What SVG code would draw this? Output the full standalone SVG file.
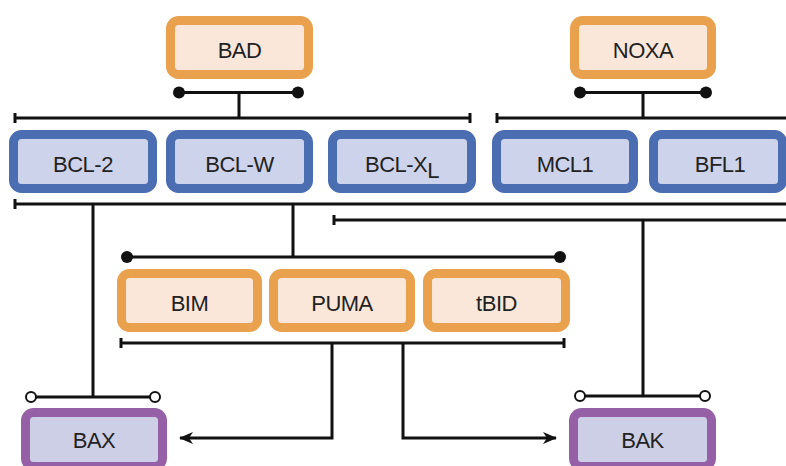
<svg xmlns="http://www.w3.org/2000/svg" width="786" height="466" viewBox="0 0 786 466">
<defs>
<style>
.box rect{stroke-width:9}
.o rect{fill:#FAE7DA;stroke:#E9A14E}
.b rect{fill:#CDD3EA;stroke:#4B6DB1}
.p rect{fill:#CDCFE6;stroke:#9660A6}
text{font-family:"Liberation Sans",Arial,sans-serif;font-size:22px;letter-spacing:-0.5px;fill:#222;text-anchor:middle}
.ln{stroke:#111;stroke-width:3;fill:none}
.dot{fill:#111}
.odot{fill:#fff;stroke:#111;stroke-width:2}
</style>
<marker id="ah" viewBox="0 0 14 12" refX="13" refY="6" markerWidth="14" markerHeight="12" markerUnits="userSpaceOnUse" orient="auto">
<path d="M0,0 L14,6 L0,12 L4,6 Z" fill="#111"/>
</marker>
</defs>
<rect width="786" height="466" fill="#fff"/>
<g id="connectors">
<path class="ln" d="M179 92.5H298M239 92.5V118"/>
<circle class="dot" cx="179" cy="92.5" r="6"/><circle class="dot" cx="298" cy="92.5" r="6"/>
<path class="ln" d="M15 118H470M15 113V123M470 113V123"/>
<path class="ln" d="M580 92.5H706M643 92.5V118"/>
<circle class="dot" cx="580" cy="92.5" r="6"/><circle class="dot" cx="706" cy="92.5" r="6"/>
<path class="ln" d="M497 118H790M497 113V123"/>
<path class="ln" d="M15 204H790M15 199V209"/>
<path class="ln" d="M334 220H790M334 215V225"/>
<path class="ln" d="M93 204V397"/>
<path class="ln" d="M293 204V257"/>
<path class="ln" d="M127 257H560"/>
<circle class="dot" cx="127" cy="257" r="6"/><circle class="dot" cx="560" cy="257" r="6"/>
<path class="ln" d="M643 220V396"/>
<path class="ln" d="M121 343H564M121 338V348M564 338V348"/>
<path class="ln" d="M332 343V438H180" marker-end="url(#ah)"/>
<path class="ln" d="M403 343V438H556" marker-end="url(#ah)"/>
<path class="ln" d="M36 397H150"/>
<circle class="odot" cx="31" cy="397" r="5"/><circle class="odot" cx="155" cy="397" r="5"/>
<path class="ln" d="M585 396H700"/>
<circle class="odot" cx="580" cy="396" r="5"/><circle class="odot" cx="705" cy="396" r="5"/>
</g>
<g id="BAD" class="box o"><rect x="170.5" y="20.5" width="138" height="54" rx="8"/><text x="239.5" y="58">BAD</text></g>
<g id="NOXA" class="box o"><rect x="574.5" y="20.5" width="137" height="54" rx="8"/><text x="643" y="58">NOXA</text></g>
<g id="BCL-2" class="box b"><rect x="13.5" y="134.5" width="139" height="54" rx="8"/><text x="83" y="172">BCL-2</text></g>
<g id="BCL-W" class="box b"><rect x="170.5" y="134.5" width="138" height="54" rx="8"/><text x="239.5" y="172">BCL-W</text></g>
<g id="BCL-XL" class="box b"><rect x="332.5" y="134.5" width="139" height="54" rx="8"/><text x="402" y="172">BCL-X<tspan dy="6">L</tspan></text></g>
<g id="MCL1" class="box b"><rect x="496.5" y="134.5" width="137" height="54" rx="8"/><text x="565" y="172">MCL1</text></g>
<g id="BFL1" class="box b"><rect x="653.5" y="134.5" width="129" height="54" rx="8"/><text x="720" y="172">BFL1</text></g>
<g id="BIM" class="box o"><rect x="121.5" y="273.5" width="136" height="54" rx="8"/><text x="189.5" y="311">BIM</text></g>
<g id="PUMA" class="box o"><rect x="273.5" y="273.5" width="137" height="54" rx="8"/><text x="342" y="311">PUMA</text></g>
<g id="tBID" class="box o"><rect x="427.5" y="273.5" width="138" height="54" rx="8"/><text x="496.5" y="311">tBID</text></g>
<g id="BAX" class="box p"><rect x="25.5" y="412.5" width="137" height="54" rx="8"/><text x="94" y="448">BAX</text></g>
<g id="BAK" class="box p"><rect x="573.5" y="412.5" width="138" height="54" rx="8"/><text x="642.5" y="448">BAK</text></g>
</svg>
